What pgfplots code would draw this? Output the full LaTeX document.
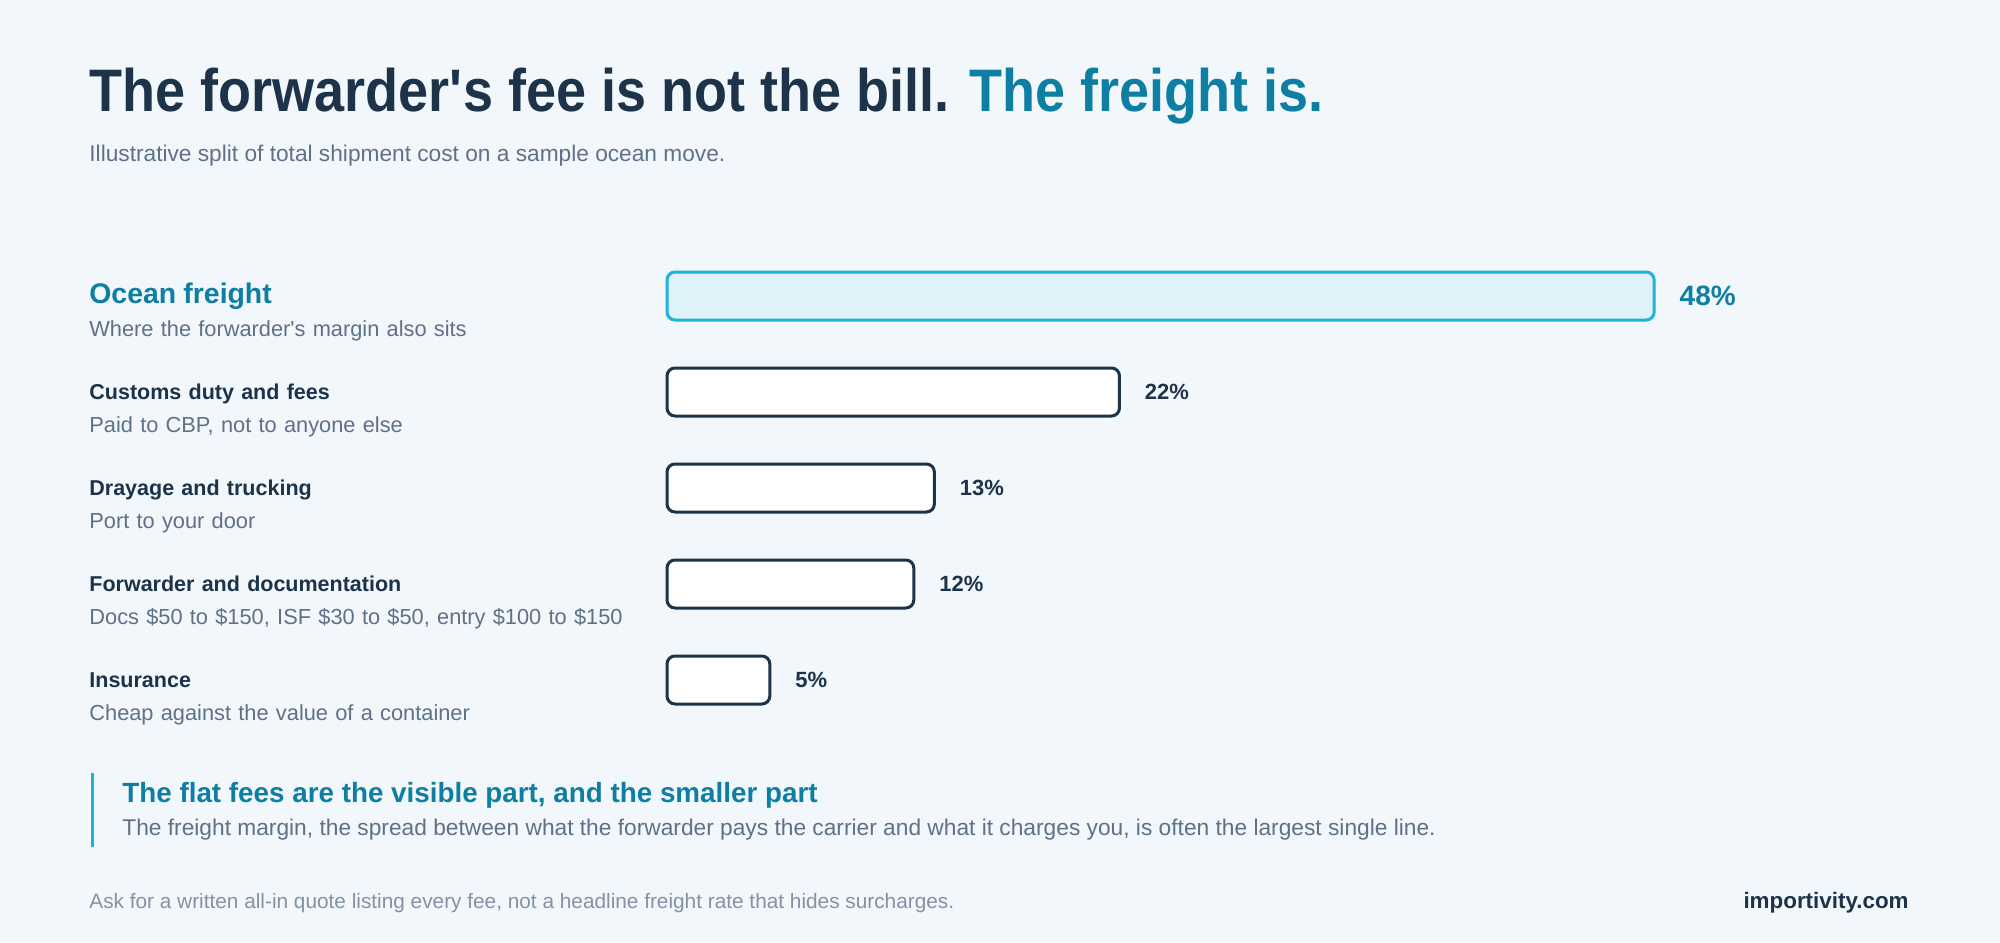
\documentclass[border=0pt]{standalone}
\usepackage{fontspec}
\setmainfont{Liberation Sans}
\newfontfamily\titlefont[FakeStretch=0.9]{Liberation Sans}
\usepackage{pgfplots}
\pgfplotsset{compat=1.18}

\definecolor{bg}{HTML}{F1F7FB}
\definecolor{ink}{HTML}{1C3349}
\definecolor{tealc}{HTML}{0E7EA2}
\definecolor{cyanline}{HTML}{1EB1DC}
\definecolor{cyanfill}{HTML}{DFF2F9}
\definecolor{muted}{HTML}{5F7187}
\definecolor{faint}{HTML}{8193A5}

% two-line row labels: bold name, grey note
\newcommand{\toplabel}[2]{{\fontsize{14.2}{16}\selectfont\bfseries\color{tealc}#1}\\{\color{muted}#2}}
\newcommand{\rowlabel}[2]{{\fontsize{10.75}{16.5}\selectfont\bfseries\color{ink}#1}\\{\color{muted}#2}}

\begin{document}
\begin{tikzpicture}
\useasboundingbox (0,0) rectangle (1000pt,471pt);
\fill[bg] (0,0) rectangle (1000pt,471pt);

\node[anchor=base west, inner sep=0pt, text=ink,
  font=\titlefont\bfseries\fontsize{30}{34}\selectfont] at (44.5pt,415pt)
  {The forwarder\textquotesingle s fee is not the bill. \textcolor{tealc}{The freight is.}};
\node[anchor=base west, inner sep=0pt, text=muted, font=\fontsize{11.35}{13}\selectfont]
  at (44.5pt,390pt) {Illustrative split of total shipment cost on a sample ocean move.};

\begin{axis}[
  at={(333.5pt,107pt)}, anchor=south west,
  width=617pt, height=240pt, scale only axis,
  xmin=0, xmax=60, ymin=-0.5, ymax=4.5, y dir=reverse,
  axis line style={draw=none},
  xtick=\empty, ytick={0,1,2,3,4}, major tick length=0pt,
  yticklabels={
    {\toplabel{Ocean freight}{Where the forwarder\textquotesingle s margin also sits}},
    {\rowlabel{Customs duty and fees}{Paid to CBP, not to anyone else}},
    {\rowlabel{Drayage and trucking}{Port to your door}},
    {\rowlabel{Forwarder and documentation}{Docs \$50 to \$150, ISF \$30 to \$50, entry \$100 to \$150}},
    {\rowlabel{Insurance}{Cheap against the value of a container}}},
  yticklabel style={anchor=base west, inner sep=0pt, text width=300pt, align=left,
    xshift=-289pt, yshift=-3.5pt, font=\fontsize{10.9}{16.5}\selectfont},
  xbar, bar width=24pt, bar shift=0pt,
  point meta=x,
  /pgf/number format/assume math mode=true,
  nodes near coords={\pgfmathprintnumber{\pgfplotspointmeta}\%},
  clip=false,
]
\addplot[fill=cyanfill, draw=cyanline, line width=1.5pt, rounded corners=4pt,
  nodes near coords style={anchor=west, xshift=12pt, inner sep=0pt, fill=none, draw=none,
    text=tealc, font=\bfseries\fontsize{14}{16}\selectfont}]
  coordinates {(48,0)};
\addplot[fill=white, draw=ink, line width=1.5pt, rounded corners=4pt,
  nodes near coords style={anchor=west, xshift=12pt, inner sep=0pt, fill=none, draw=none,
    text=ink, font=\bfseries\fontsize{11}{13}\selectfont}]
  coordinates {(22,1) (13,2) (12,3) (5,4)};
\end{axis}

\draw[cyanline, line width=1.5pt] (46pt,84.5pt) -- (46pt,47.5pt);
\node[anchor=base west, inner sep=0pt, text=tealc, font=\bfseries\fontsize{13.9}{16}\selectfont]
  at (61pt,70pt) {The flat fees are the visible part, and the smaller part};
\node[anchor=base west, inner sep=0pt, text=muted, font=\fontsize{11.37}{13}\selectfont]
  at (61pt,53.5pt) {The freight margin, the spread between what the forwarder pays the carrier and what it charges you, is often the largest single line.};
\node[anchor=base west, inner sep=0pt, text=faint, font=\fontsize{10.4}{12}\selectfont]
  at (44.5pt,17pt) {Ask for a written all-in quote listing every fee, not a headline freight rate that hides surcharges.};
\node[anchor=base east, inner sep=0pt, text=ink, font=\bfseries\fontsize{11.2}{13}\selectfont]
  at (954.5pt,17pt) {importivity.com};
\end{tikzpicture}
\end{document}
